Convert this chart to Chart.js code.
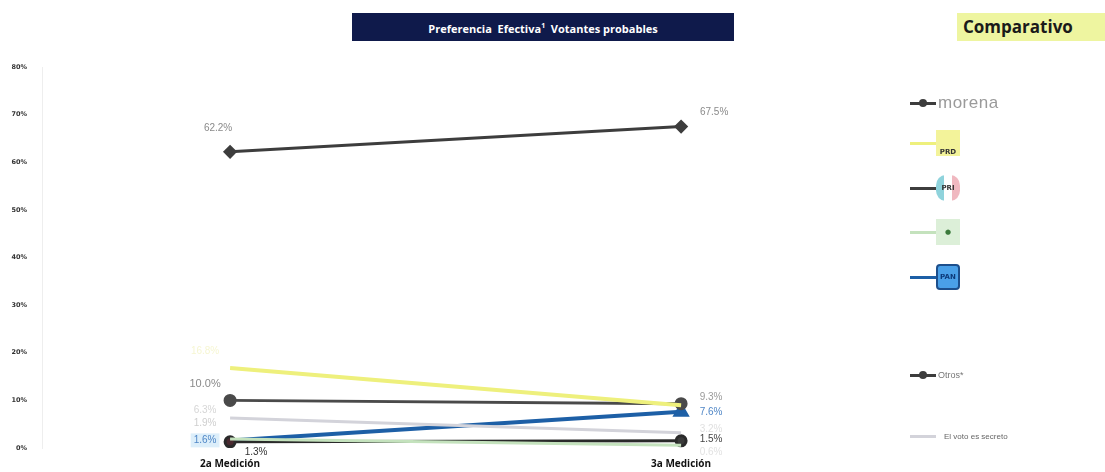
<!DOCTYPE html>
<html>
<head>
<meta charset="utf-8">
<script src="https://cdn.jsdelivr.net/npm/chart.js@4.4.1/dist/chart.umd.min.js"></script>
<style>
  html, body { margin: 0; padding: 0; background: #fff; }
  #wrap { position: relative; width: 1105px; height: 472px; overflow: hidden; }
  #myChart { position: absolute; left: 0; top: 0; }
  #title {
    position: absolute; left: 352px; top: 13px; width: 382px; height: 28px;
    background: #0f1a4b; color: #fff; font: bold 11px "Open Sans", sans-serif;
    text-align: center; line-height: 26px;
  }
  #title sup { font-size: 7px; }
  #compTitle {
    position: absolute; left: 957px; top: 13px; width: 148px; height: 28px;
    background: #eef5a0; font: bold 17px "Open Sans", sans-serif; color: #1a1a1a;
    line-height: 28px; padding-left: 6px; box-sizing: border-box;
  }
  .leg { position: absolute; left: 910px; height: 30px; display: flex; align-items: center; }
  .leg .ln { width: 26px; height: 3px; position: relative; }
  .leg .dot { position: absolute; left: 9px; top: -3px; width: 8px; height: 8px; border-radius: 50%; }
  .leg .txt { margin-left: 2px; }
  .logo {
    width: 24px; height: 26px; font: bold 7px "DejaVu Sans", sans-serif;
    display: flex; align-items: flex-end; justify-content: center; box-sizing: border-box;
  }
</style>
</head>
<body>
<div id="wrap">
  <canvas id="myChart" width="1105" height="472"></canvas>
  <div id="title">Preferencia&nbsp; Efectiva<sup>1</sup>&nbsp; Votantes probables</div>
  <div id="compTitle">Comparativo</div>
  <div id="legend"></div>
</div>
<script>
"use strict";

const mediciones = ["2a Medición", "3a Medición"];
const yTicks = [0, 10, 20, 30, 40, 50, 60, 70, 80];

const morena = [62.2, 67.5];
const prd = [16.8, 9.0];
const pri = [1.3, 1.5];
const pvem = [1.9, 0.6];
const pan = [1.6, 7.6];
const otros = [10.0, 9.3];
const votoSecreto = [6.3, 3.2];

const seriesNames = ["morena", "PRD", "PRI", "PVEM", "PAN", "Otros*", "El voto es secreto"];

const darkGray = "#3d3d3d";
const yellow = "#eef07c";
const blue = "#1d5fa6";
const lightGray = "#d3d3da";
const lightGreen = "#c4e2bd";

// label offsets relative to each point (style only)
const labelStyle = {
  morena: [{ dx: -12, dy: -24, color: "#8a8a8a" }, { dx: 33, dy: -14, color: "#8a8a8a" }],
  PRD: [{ dx: -25, dy: -17, color: "#f6f6d2" }, null],
  PRI: [{ dx: 26, dy: 10, color: "#333" }, { dx: 30, dy: -2, color: "#444" }],
  PVEM: [{ dx: -25, dy: -16, color: "#cfcfcf" }, { dx: 30, dy: 7, color: "#e2e2e2" }],
  PAN: [{ dx: -25, dy: 0, color: "#4f86c6", bg: "#dceefa" }, { dx: 30, dy: 0, color: "#4f86c6" }],
  "Otros*": [{ dx: -25, dy: -16, color: "#8a8a8a", size: 11 }, { dx: 30, dy: -6, color: "#9a9a9a" }],
  "El voto es secreto": [{ dx: -25, dy: -8, color: "#d6d6d6" }, { dx: 30, dy: -4, color: "#e0e0e0" }],
};

const toPoints = (arr) => arr.map((v, i) => ({ x: i, y: v }));

const data = {
  datasets: [
    {
      label: seriesNames[6], data: toPoints(votoSecreto), borderColor: lightGray,
      borderWidth: 3, pointRadius: 0,
    },
    {
      label: seriesNames[3], data: toPoints(pvem), borderColor: lightGreen,
      borderWidth: 3, pointRadius: 0,
    },
    {
      label: seriesNames[1], data: toPoints(prd), borderColor: yellow,
      borderWidth: 4, pointRadius: 0,
    },
    {
      label: seriesNames[5], data: toPoints(otros), borderColor: "#4a4a4a",
      backgroundColor: "#4a4a4a", borderWidth: 3, pointRadius: 5, pointStyle: "circle",
    },
    {
      label: seriesNames[2], data: toPoints(pri), borderColor: "#2a2a2a",
      backgroundColor: ["#4a2a30", "#3a3a3a"], borderWidth: 3, pointRadius: 5,
      pointStyle: "circle",
    },
    {
      label: seriesNames[4], data: toPoints(pan), borderColor: blue,
      backgroundColor: blue, borderWidth: 4, pointRadius: [0, 6], pointStyle: "triangle",
    },
    {
      label: seriesNames[0], data: toPoints(morena), borderColor: darkGray,
      backgroundColor: darkGray, borderWidth: 3, pointRadius: 5, pointStyle: "rectRot",
    },
  ],
};

const pointLabels = {
  id: "pointLabels",
  afterDatasetsDraw(chart) {
    const c = chart.ctx;
    c.save();
    c.textAlign = "center";
    c.textBaseline = "middle";
    chart.data.datasets.forEach((ds, di) => {
      const styles = labelStyle[ds.label];
      const meta = chart.getDatasetMeta(di);
      meta.data.forEach((pt, i) => {
        const st = styles && styles[i];
        if (!st) return;
        c.font = (st.size || 10) + "px 'Liberation Sans', sans-serif";
        const txt = ds.data[i].y.toFixed(1) + "%";
        const x = pt.x + st.dx;
        const y = pt.y + st.dy;
        if (st.bg) {
          const w = c.measureText(txt).width + 6;
          c.fillStyle = st.bg;
          c.fillRect(x - w / 2, y - 7, w, 14);
        }
        c.fillStyle = st.color;
        c.fillText(txt, x, y);
      });
    });
    c.restore();
  },
};

const config = {
  type: "line",
  data: data,
  options: {
    responsive: false,
    animation: false,
    layout: { padding: { top: 67, right: 225, left: 0, bottom: 0 } },
    scales: {
      x: {
        type: "linear",
        min: -0.417,
        max: 1.441,
        grid: { display: false },
        border: { display: false },
        afterBuildTicks: (scale) => {
          scale.ticks = mediciones.map((_, i) => ({ value: i }));
        },
        afterFit: (scale) => { scale.height = 24; },
        ticks: {
          padding: 2,
          color: "#111",
          font: { family: "'Open Sans', sans-serif", size: 10, weight: "bold" },
          callback: (v) => mediciones[v],
        },
      },
      y: {
        min: 0,
        max: 80,
        grid: { display: false },
        border: { display: true, color: "#eeeeee", width: 1 },
        afterBuildTicks: (scale) => {
          scale.ticks = yTicks.map((v) => ({ value: v }));
        },
        afterFit: (scale) => { scale.width = 42; },
        ticks: {
          padding: 7,
          color: "#333",
          font: { family: "'DejaVu Sans', sans-serif", size: 6.5, weight: "bold" },
          callback: (v) => v + "%",
        },
      },
    },
    plugins: {
      legend: { display: false },
      tooltip: { enabled: false },
    },
  },
  plugins: [pointLabels],
};

new Chart(document.getElementById("myChart"), config);

// legend on the right
const legendRows = [
  { name: seriesNames[0], top: 88, color: darkGray, dot: darkGray,
    html: '<span class="txt" style="font:17px \'Liberation Sans Narrow\',\'Liberation Sans\',sans-serif;color:#9a9a9a;letter-spacing:0.5px">morena</span>' },
  { name: seriesNames[1], top: 128, color: yellow,
    html: '<span class="logo" style="background:#f3f39a;color:#333">PRD</span>' },
  { name: seriesNames[2], top: 173, color: darkGray,
    html: '<span class="logo" style="background:linear-gradient(90deg,#8fd3dc 0 33%,#fff 33% 66%,#f0b8c0 66%);color:#333;border-radius:40%;align-items:center">PRI</span>' },
  { name: seriesNames[3], top: 217, color: lightGreen,
    html: '<span class="logo" style="background:#dcefd8;color:#3c7a3c;align-items:center">●</span>' },
  { name: seriesNames[4], top: 262, color: blue,
    html: '<span class="logo" style="background:#4aa0e8;color:#0d3a7a;border:2px solid #1d4f8c;border-radius:4px;align-items:center">PAN</span>' },
  { name: seriesNames[5], top: 360, color: darkGray, dot: darkGray,
    html: '<span class="txt" style="font:9px \'Liberation Sans\',sans-serif;color:#777">Otros*</span>' },
  { name: seriesNames[6], top: 421, color: lightGray,
    html: '<span class="txt" style="font:8px \'Liberation Sans\',sans-serif;color:#666;margin-left:8px">El voto es secreto</span>' },
];

const legendEl = document.getElementById("legend");
legendRows.forEach((row) => {
  const div = document.createElement("div");
  div.className = "leg";
  div.style.top = row.top + "px";
  const dot = row.dot ? `<span class="dot" style="background:${row.dot}"></span>` : "";
  div.innerHTML = `<span class="ln" style="background:${row.color}">${dot}</span>` + row.html;
  legendEl.appendChild(div);
});
</script>
</body>
</html>
